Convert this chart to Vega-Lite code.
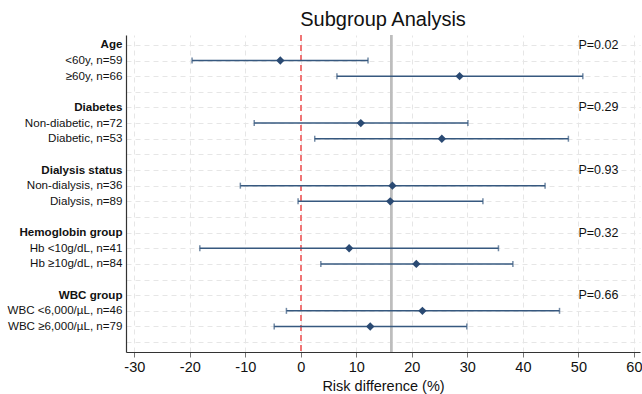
{
  "$schema": "https://vega.github.io/schema/vega-lite/v6.json",
  "autosize": "none",
  "width": 514,
  "height": 317,
  "padding": {"left": 126, "top": 35, "right": 2, "bottom": 42},
  "background": "white",
  "config": {
    "font": "Liberation Sans",
    "view": {"stroke": null},
    "axis": {"domainColor": "#333333", "tickColor": "#777777", "labelColor": "#111111", "titleColor": "#111111"}
  },
  "title": {"text": "Subgroup Analysis", "fontSize": 20, "fontWeight": "normal", "anchor": "middle", "offset": 4, "color": "#111111"},
  "data": {
    "values": [
      {"label": "Age", "p": "P=0.02"},
      {"label": "<60y, n=59", "est": -3.7, "lo": -19.6, "hi": 12.1},
      {"label": "≥60y, n=66", "est": 28.6, "lo": 6.5, "hi": 50.8},
      {"label": "Diabetes", "p": "P=0.29"},
      {"label": "Non-diabetic, n=72", "est": 10.8, "lo": -8.4, "hi": 30.1},
      {"label": "Diabetic, n=53", "est": 25.4, "lo": 2.5, "hi": 48.2},
      {"label": "Dialysis status", "p": "P=0.93"},
      {"label": "Non-dialysis, n=36", "est": 16.5, "lo": -10.9, "hi": 44.0},
      {"label": "Dialysis, n=89", "est": 16.1, "lo": -0.5, "hi": 32.8},
      {"label": "Hemoglobin group", "p": "P=0.32"},
      {"label": "Hb <10g/dL, n=41", "est": 8.7, "lo": -18.2, "hi": 35.6},
      {"label": "Hb ≥10g/dL, n=84", "est": 20.8, "lo": 3.6, "hi": 38.2},
      {"label": "WBC group", "p": "P=0.66"},
      {"label": "WBC <6,000/µL, n=46", "est": 21.9, "lo": -2.6, "hi": 46.6},
      {"label": "WBC ≥6,000/µL, n=79", "est": 12.5, "lo": -4.8, "hi": 29.9}
    ]
  },
  "encoding": {
    "y": {
      "field": "label",
      "type": "ordinal",
      "scale": {
        "type": "point",
        "padding": 0.63,
        "domain": ["Age", "<60y, n=59", "≥60y, n=66", " ", "Diabetes", "Non-diabetic, n=72", "Diabetic, n=53", "  ", "Dialysis status", "Non-dialysis, n=36", "Dialysis, n=89", "   ", "Hemoglobin group", "Hb <10g/dL, n=41", "Hb ≥10g/dL, n=84", "    ", "WBC group", "WBC <6,000/µL, n=46", "WBC ≥6,000/µL, n=79", "     "]
      },
      "axis": {
        "title": null,
        "labelFontSize": 11.6,
        "labelPadding": 4,
        "ticks": false,
        "grid": true,
        "gridColor": "#e6e6e6",
        "gridDash": [5, 4],
        "gridWidth": 1,
        "domainWidth": 1.2,
        "labelFontWeight": {"condition": {"test": "indexof(['Age','Diabetes','Dialysis status','Hemoglobin group','WBC group'], datum.value) >= 0", "value": "bold"}, "value": "normal"}
      }
    }
  },
  "layer": [
    {
      "mark": {"type": "rule", "color": "#f07575", "strokeDash": [6, 4], "strokeWidth": 1.5},
      "encoding": {"x": {"datum": 0, "type": "quantitative"}, "y": null}
    },
    {
      "mark": {"type": "rule", "color": "#bdbdbd", "strokeWidth": 1.5},
      "encoding": {"x": {"datum": 16.3, "type": "quantitative"}, "y": null}
    },
    {
      "mark": {"type": "rule", "color": "#36587f", "strokeWidth": 1.5},
      "encoding": {
        "x": {
          "field": "lo",
          "type": "quantitative",
          "scale": {"domain": [-31.5, 61.1], "nice": false, "zero": false},
          "axis": {
            "title": "Risk difference (%)",
            "titleFontSize": 14.5,
            "titleFontWeight": "normal",
            "titlePadding": 6,
            "labelFontSize": 14.5,
            "labelPadding": 3,
            "labelExpr": "replace(datum.label, '−', '-')",
            "values": [-30, -20, -10, 0, 10, 20, 30, 40, 50, 60],
            "tickSize": 5,
            "grid": true,
            "gridColor": "#e6e6e6",
            "gridDash": [5, 4],
            "gridWidth": 1,
            "domainWidth": 1.2
          }
        },
        "x2": {"field": "hi"}
      }
    },
    {
      "mark": {"type": "tick", "color": "#36587f", "size": 6, "thickness": 1.5},
      "encoding": {"x": {"field": "lo", "type": "quantitative"}}
    },
    {
      "mark": {"type": "tick", "color": "#36587f", "size": 6, "thickness": 1.5},
      "encoding": {"x": {"field": "hi", "type": "quantitative"}}
    },
    {
      "mark": {"type": "point", "shape": "diamond", "filled": true, "opacity": 1, "color": "#2a4a73", "size": 70},
      "encoding": {"x": {"field": "est", "type": "quantitative"}}
    },
    {
      "transform": [{"filter": "isValid(datum.p)"}],
      "mark": {"type": "text", "align": "left", "baseline": "middle", "fontSize": 12.5, "color": "#111111"},
      "encoding": {"x": {"datum": 50, "type": "quantitative"}, "text": {"field": "p"}}
    }
  ]
}
